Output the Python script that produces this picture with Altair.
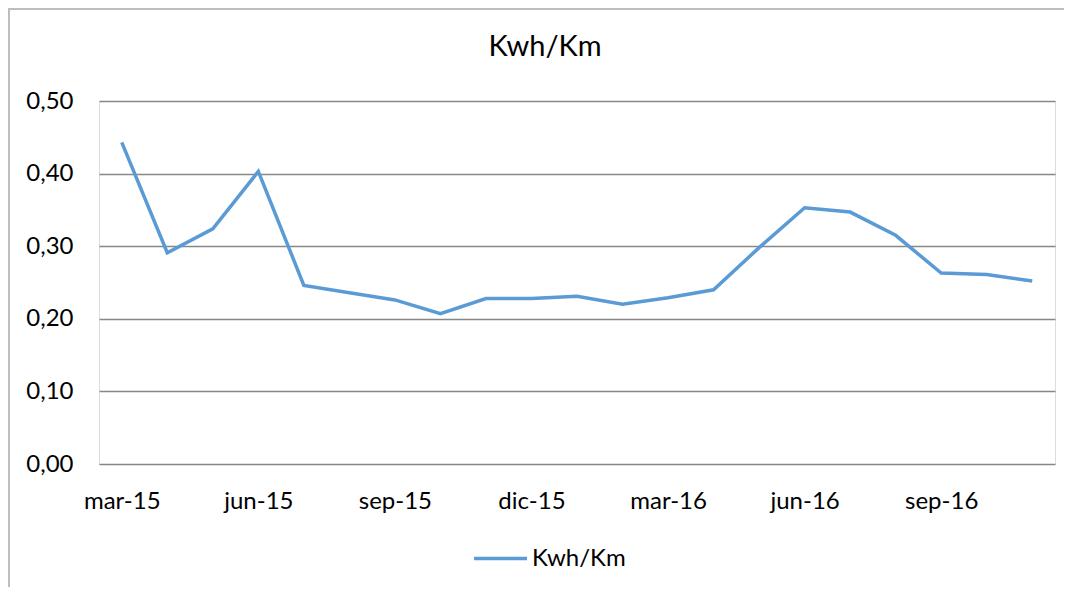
import altair as alt
import pandas as pd

months = ["mar-15", "abr-15", "may-15", "jun-15", "jul-15", "ago-15", "sep-15",
          "oct-15", "nov-15", "dic-15", "ene-16", "feb-16", "mar-16", "abr-16",
          "may-16", "jun-16", "jul-16", "ago-16", "sep-16", "oct-16", "nov-16"]
kwh_km = [0.443, 0.291, 0.324, 0.403, 0.246, 0.236, 0.226,
          0.207, 0.228, 0.228, 0.231, 0.220, 0.229, 0.240,
          0.298, 0.353, 0.347, 0.315, 0.263, 0.261, 0.252]
series_name = "Kwh/Km"
chart_title = "Kwh/Km"
y_ticks = [0.0, 0.1, 0.2, 0.3, 0.4, 0.5]

df = pd.DataFrame({"mes": months, "valor": kwh_km, "serie": [series_name] * len(months)})
title_df = pd.DataFrame({"t": [chart_title]})

FONT = "Lato"
FS = 24
GRID = "#878787"
BLUE = "#5B9BD5"

line = alt.Chart(df).mark_line(strokeWidth=3.5, color=BLUE).encode(
    x=alt.X("mes:O", sort=months,
            scale=alt.Scale(type="point", padding=0.5),
            axis=alt.Axis(title=None, values=months[::3], labelAngle=0,
                          domain=False, ticks=False, grid=False,
                          labelPadding=25, labelFontSize=FS, labelFont=FONT,
                          labelColor="#000000")),
    y=alt.Y("valor:Q",
            scale=alt.Scale(domain=[0, 0.5], nice=False, zero=True),
            axis=alt.Axis(title=None, values=y_ticks, domain=False, ticks=False,
                          grid=True, gridColor=GRID, gridWidth=1.3,
                          labelExpr="replace(format(datum.value, '.2f'), '.', ',')",
                          labelPadding=26, labelFontSize=FS, labelFont=FONT,
                          labelColor="#000000")),
    color=alt.Color("serie:N",
                    scale=alt.Scale(domain=[series_name], range=[BLUE]),
                    legend=alt.Legend(title=None, orient="none",
                                      legendX=373, legendY=429,
                                      symbolType="stroke", symbolSize=2809,
                                      symbolStrokeWidth=3.5,
                                      labelFontSize=FS, labelFont=FONT,
                                      labelColor="#000000", labelOffset=3)),
)

title_text = alt.Chart(title_df).mark_text(
    font=FONT, fontSize=29, color="#000000", align="center", baseline="middle"
).encode(x=alt.value(446), y=alt.value(-54), text="t:N")

border_left = alt.Chart(df).mark_rule(color="#BDBDBD", strokeWidth=2).encode(
    x=alt.value(-90), y=alt.value(-93), y2=alt.value(490))
border_top = alt.Chart(df).mark_rule(color="#BDBDBD", strokeWidth=2).encode(
    x=alt.value(-91), x2=alt.value(966), y=alt.value(-92))

chart = alt.layer(border_left, border_top, title_text, line).properties(
    width=956, height=363,
    autosize=alt.AutoSizeParams(type="none"),
    padding={"left": 91, "top": 93, "right": 9, "bottom": 123},
).configure_view(stroke=None).configure(background="white")

chart.save("out.html", embed_options={"renderer": "svg", "actions": False})
